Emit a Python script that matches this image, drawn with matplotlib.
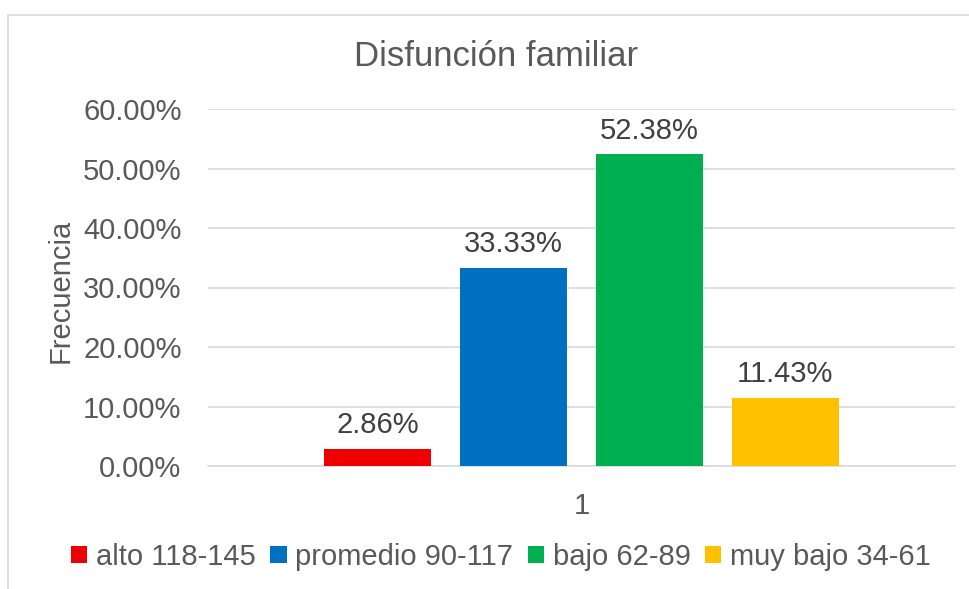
import matplotlib.pyplot as plt
from matplotlib.patches import Patch, Rectangle
from matplotlib.ticker import FuncFormatter

# datos
categorias = ['alto 118-145', 'promedio 90-117', 'bajo 62-89', 'muy bajo 34-61']
valores = [0.0286, 0.3333, 0.5238, 0.1143]
colores = ['#EE0000', '#0070C0', '#00B050', '#FFC000']
etiqueta_x = ['1']

plt.rcParams['font.family'] = ['Liberation Sans', 'DejaVu Sans']

fig = plt.figure(figsize=(9.69, 5.89), dpi=100)
ax = fig.add_axes([208 / 969, 123 / 589, 747 / 969, 357 / 589])

# borde del area del grafico
fig.patches.append(Rectangle((8 / 969, -0.1), 1.2, 1.1 - 15 / 589, transform=fig.transFigure,
                             fill=False, edgecolor='#d9d9d9', linewidth=1.2))

paso = 0.1817
ancho = 0.1432
for i, (cat, val, col) in enumerate(zip(categorias, valores, colores)):
    x = (i - 1.5) * paso
    ax.bar(x, val, width=ancho, color=col, zorder=3)
    ax.annotate(f'{val * 100:.2f}%', (x, val), xytext=(0, 7), textcoords='offset points',
                ha='center', va='bottom', fontsize=21, color='#404040')

ax.set_xlim(-0.5, 0.5)
ax.set_ylim(0, 0.6)
ax.set_yticks([0, 0.1, 0.2, 0.3, 0.4, 0.5, 0.6])
ax.yaxis.set_major_formatter(FuncFormatter(lambda v, p: f'{v * 100:.2f}%'))
ax.set_xticks([0])
ax.set_xticklabels(etiqueta_x)
ax.tick_params(axis='y', length=0, pad=19, labelsize=21, labelcolor='#595959')
ax.tick_params(axis='x', length=0, pad=19, labelsize=21, labelcolor='#595959')
ax.grid(axis='y', color='#d9d9d9', linewidth=1.2, zorder=0)
for s in ['top', 'right', 'left']:
    ax.spines[s].set_visible(False)
ax.spines['bottom'].set_color('#d9d9d9')
ax.spines['bottom'].set_linewidth(1.2)

ax.set_ylabel('Frecuencia', fontsize=21, color='#595959')
ax.yaxis.set_label_coords(-0.178, 0.49)

fig.text(496 / 969, 1 - 57 / 589, 'Disfunción familiar', ha='center', va='center',
         fontsize=25, color='#595959')

handles = [Patch(facecolor=c, edgecolor='none') for c in colores]
fig.legend(handles, categorias, loc='center', bbox_to_anchor=(501 / 969, 1 - 557 / 589),
           ncol=4, frameon=False, fontsize=21, labelcolor='#595959',
           handlelength=0.55, handleheight=0.55, handletextpad=0.3, columnspacing=0.5,
           borderaxespad=0)

fig.savefig('out.png', dpi=100)
